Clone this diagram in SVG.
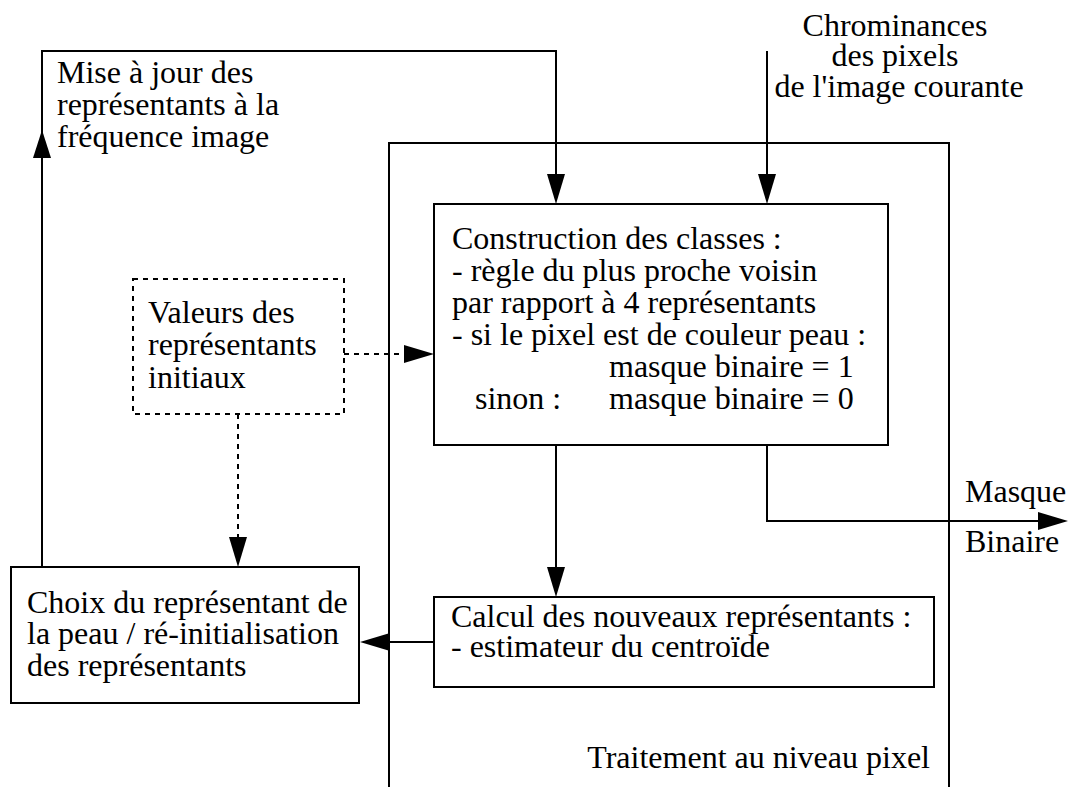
<svg xmlns="http://www.w3.org/2000/svg" width="1068" height="787" viewBox="0 0 1068 787">
  <style>
    .box { fill: none; stroke: #000; stroke-width: 2; }
    .dash { fill: none; stroke: #000; stroke-width: 2; stroke-dasharray: 5 5; }
    .wire { fill: none; stroke: #000; stroke-width: 2; }
    .head { fill: #000; stroke: none; }
  </style>

  <g font-family="'Liberation Serif', 'Times New Roman', serif" font-size="32" fill="#000">

  <!-- outer frame: pixel-level processing (open at the bottom) -->
  <g id="frame-pixel">
    <path class="box" d="M389,787 V143 H949 V787"/>
    <text x="930" y="768" text-anchor="end">Traitement au niveau pixel</text>
  </g>

  <g id="input-chroma">
    <text text-anchor="middle">
      <tspan x="899" y="36">Chrominances</tspan>
      <tspan x="899" y="66">des pixels</tspan>
      <tspan x="899" y="97">de l'image courante</tspan>
    </text>
  </g>

  <g id="label-update">
    <text>
      <tspan x="57" y="83">Mise à jour des</tspan>
      <tspan x="57" y="115">représentants à la</tspan>
      <tspan x="57" y="147">fréquence image</tspan>
    </text>
  </g>

  <g id="node-classes">
    <rect class="box" x="434" y="204" width="454" height="241"/>
    <text>
      <tspan x="452" y="249">Construction des classes :</tspan>
      <tspan x="452" y="281">- règle du plus proche voisin</tspan>
      <tspan x="452" y="313">par rapport à 4 représentants</tspan>
      <tspan x="452" y="345">- si le pixel est de couleur peau :</tspan>
      <tspan x="609" y="377">masque binaire = 1</tspan>
      <tspan x="475" y="409">sinon :</tspan>
      <tspan x="609" y="409">masque binaire = 0</tspan>
    </text>
  </g>

  <g id="node-initial">
    <rect class="dash" x="133" y="279" width="211" height="135"/>
    <text>
      <tspan x="148" y="323">Valeurs des</tspan>
      <tspan x="148" y="355">représentants</tspan>
      <tspan x="148" y="388">initiaux</tspan>
    </text>
  </g>

  <g id="node-centroid">
    <rect class="box" x="434" y="597" width="500" height="90"/>
    <text>
      <tspan x="451" y="627">Calcul des nouveaux représentants :</tspan>
      <tspan x="451" y="657">- estimateur du centroïde</tspan>
    </text>
  </g>

  <g id="node-choice">
    <rect class="box" x="11" y="567" width="348" height="136"/>
    <text>
      <tspan x="27" y="613">Choix du représentant de</tspan>
      <tspan x="27" y="644">la peau / ré-initialisation</tspan>
      <tspan x="27" y="676">des représentants</tspan>
    </text>
  </g>

  <g id="output-mask">
    <text x="965" y="502">Masque</text>
    <text x="965" y="552">Binaire</text>
  </g>

  </g>

  <g id="connectors">
    <!-- feedback loop: choice box up, across, down into class construction -->
    <path class="wire" d="M42,567 V51 H556 V176"/>
    <polygon class="head" points="42,130 33,158 51,158"/>
    <polygon class="head" points="556,204 547,174 565,174"/>
    <!-- chrominance input -->
    <path class="wire" d="M767,51 V176"/>
    <polygon class="head" points="767,204 758,174 776,174"/>
    <!-- initial values (dotted) -->
    <path class="dash" d="M344,354 H406"/>
    <polygon class="head" points="434,354 404,345 404,363"/>
    <path class="dash" d="M238,414 V538"/>
    <polygon class="head" points="238,567 229,537 247,537"/>
    <!-- classes to centroid -->
    <path class="wire" d="M556,445 V568"/>
    <polygon class="head" points="556,597 547,567 565,567"/>
    <!-- centroid to choice -->
    <path class="wire" d="M434,642 H388"/>
    <polygon class="head" points="360,642 390,633 390,651"/>
    <!-- binary mask output -->
    <path class="wire" d="M767,445 V521 H1040"/>
    <polygon class="head" points="1068,521 1038,512 1038,530"/>
  </g>
</svg>
